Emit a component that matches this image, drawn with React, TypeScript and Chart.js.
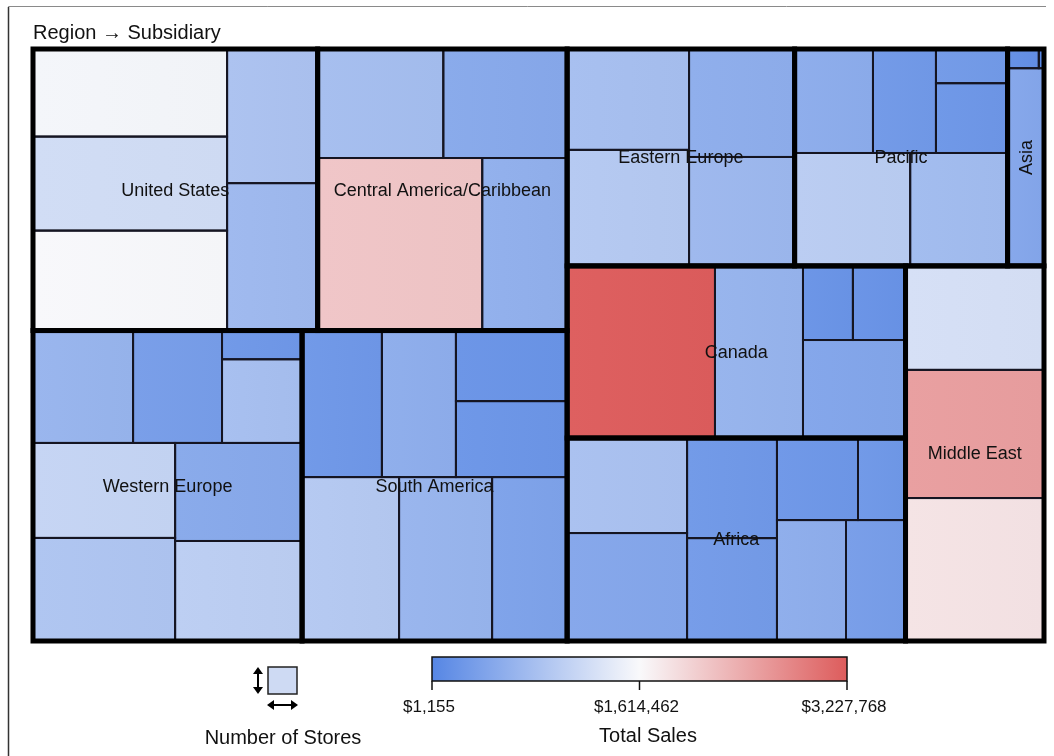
import React, { useEffect, useRef } from "react";
import { Chart, registerables } from "chart.js";

Chart.register(...registerables);

// ---------- data ----------
const regionNames = [
  "United States",
  "Central America/Caribbean",
  "Western Europe",
  "South America",
  "Eastern Europe",
  "Pacific",
  "Asia",
  "Canada",
  "Africa",
  "Middle East",
];

// first split direction inside each region ("h" = side by side, "v" = stacked)
const regionStart = ["h", "v", "v", "v", "h", "v", "v", "h", "h", "v"];

// how the regions are arranged (indices into regionNames), first split "h"
const regionArrangement = [[[0, 1], [2, 3]], [[4, 5, 6], [[7, 8], 9]]];

// Number of stores per subsidiary (nested in the order of the splits)
const storesUS = [[340, 365, 388], [243, 267]];
const storesCA = [[274, 270], [568, 293]];
const storesWE = [[225, 200, [46, 134]], [[270, 293], [249, 254]]];
const storesSA = [[234, 217, [157, 169]], [318, 305, 246]];
const storesEE = [[246, 283], [228, 230]];
const storesPAC = [[163, 131, [49, 100]], [261, 220]];
const storesASIA = [[12, 2], 144];
const storesCAN = [509, 303, [[74, 78], 201]];
const storesAFR = [[228, 259], [180, 185], [[133, 78], [167, 144]]];
const storesME = [288, 355, 396];

// Total sales per subsidiary (same leaf order as above)
const salesUS = [1566062, 1211135, 1598328, 840074, 711010];
const salesCA = [775542, 485147, 2150079, 581945];
const salesWE = [646478, 323816, 243151, 791675, 1098203, 872341, 485147, 1001405];
const salesSA = [243151, 549679, 194752, 210885, 936873, 646478, 388349];
const salesEE = [791675, 936873, 549679, 694877];
const salesPAC = [533546, 259284, 275417, 227018, 985272, 743276];
const salesASIA = [130220, 1155, 452881];
const salesCAN = [3227768, 630345, 194752, 178619, 436748];
const salesAFR = [823941, 452881, 252831, 291550, 233471, 246378, 549679, 323816];
const salesME = [1259534, 2550179, 1840324];

const regionStores: any[] = [storesUS, storesCA, storesWE, storesSA, storesEE, storesPAC, storesASIA, storesCAN, storesAFR, storesME];
const regionSales: number[][] = [salesUS, salesCA, salesWE, salesSA, salesEE, salesPAC, salesASIA, salesCAN, salesAFR, salesME];

const salesTicks = [1155, 1614462, 3227768];

// ---------- styles ----------
const FONT = '"Liberation Sans", Arial, sans-serif';
const rampStart = [86, 134, 228];
const rampMid = [249, 249, 251];
const rampEnd = [221, 92, 92];

type R = { x0: number; y0: number; x1: number; y1: number };

function weight(node: any, leafW: (v: any) => number): number {
  return Array.isArray(node) ? node.reduce((s: number, c: any) => s + weight(c, leafW), 0) : leafW(node);
}

function slice(node: any, rect: R, dir: string, leafW: (v: any) => number, out: { leaf: any; r: R }[]) {
  if (!Array.isArray(node)) {
    out.push({ leaf: node, r: rect });
    return;
  }
  const tot = weight(node, leafW);
  let acc = 0;
  for (const c of node) {
    const w = weight(c, leafW);
    const a = acc / tot;
    const b = (acc + w) / tot;
    acc += w;
    const r: R =
      dir === "h"
        ? { x0: rect.x0 + (rect.x1 - rect.x0) * a, x1: rect.x0 + (rect.x1 - rect.x0) * b, y0: rect.y0, y1: rect.y1 }
        : { x0: rect.x0, x1: rect.x1, y0: rect.y0 + (rect.y1 - rect.y0) * a, y1: rect.y0 + (rect.y1 - rect.y0) * b };
    slice(c, r, dir === "h" ? "v" : "h", leafW, out);
  }
}

function mix(a: number[], b: number[], f: number) {
  return a.map((v, i) => v + (b[i] - v) * f);
}
function rgb(c: number[]) {
  return `rgb(${Math.round(c[0])},${Math.round(c[1])},${Math.round(c[2])})`;
}
function colorFor(v: number) {
  const min = salesTicks[0];
  const max = salesTicks[salesTicks.length - 1];
  const t = Math.max(0, Math.min(1, (v - min) / (max - min)));
  return t < 0.5 ? mix(rampStart, rampMid, t / 0.5) : mix(rampMid, rampEnd, (t - 0.5) / 0.5);
}

const treemapPlugin = {
  id: "treemap",
  afterDraw(chart: any) {
    const { ctx } = chart;
    const xs = chart.scales.x;
    const ys = chart.scales.y;
    const toPx = (r: R) => ({
      l: xs.getPixelForValue(r.x0),
      r: xs.getPixelForValue(r.x1),
      t: ys.getPixelForValue(r.y0),
      b: ys.getPixelForValue(r.y1),
    });

    const regions: { leaf: any; r: R }[] = [];
    slice(regionArrangement, { x0: 0, y0: 0, x1: 1, y1: 1 }, "h", (i: number) => weight(regionStores[i], (v) => v), regions);

    ctx.save();
    // frame
    ctx.strokeStyle = "#8a8a8a";
    ctx.lineWidth = 1;
    ctx.beginPath();
    ctx.moveTo(8.5, 756);
    ctx.lineTo(8.5, 6.5);
    ctx.lineTo(1046, 6.5);
    ctx.stroke();
    ctx.strokeStyle = "#333";
    ctx.lineWidth = 1.5;
    ctx.beginPath();
    ctx.moveTo(8.5, 756);
    ctx.lineTo(8.5, 7);
    ctx.stroke();

    // title
    ctx.fillStyle = "#111";
    ctx.font = `20px ${FONT}`;
    ctx.textAlign = "left";
    ctx.textBaseline = "alphabetic";
    ctx.fillText("Region \u2192 Subsidiary", 33, 39);

    // leaves
    const leafRects: { l: number; r: number; t: number; b: number }[] = [];
    for (const reg of regions) {
      const idx = reg.leaf as number;
      const leaves: { leaf: any; r: R }[] = [];
      slice(regionStores[idx], reg.r, regionStart[idx], (v) => v, leaves);
      leaves.forEach((lf, k) => {
        const p = toPx(lf.r);
        const c = colorFor(regionSales[idx][k]);
        const g = ctx.createLinearGradient(p.l, 0, p.r, 0);
        g.addColorStop(0, rgb(mix(c, [255, 255, 255], 0.025)));
        g.addColorStop(1, rgb(mix(c, [0, 0, 0], 0.012)));
        ctx.fillStyle = g;
        ctx.fillRect(p.l, p.t, p.r - p.l, p.b - p.t);
        leafRects.push(p);
      });
    }
    ctx.strokeStyle = "#151522";
    ctx.lineWidth = 2;
    for (const p of leafRects) ctx.strokeRect(p.l, p.t, p.r - p.l, p.b - p.t);

    // region borders
    ctx.strokeStyle = "#000";
    ctx.lineWidth = 5;
    for (const reg of regions) {
      const p = toPx(reg.r);
      ctx.strokeRect(p.l, p.t, p.r - p.l, p.b - p.t);
    }

    // region labels
    ctx.fillStyle = "#111";
    ctx.font = `18px ${FONT}`;
    ctx.textAlign = "center";
    ctx.textBaseline = "middle";
    for (const reg of regions) {
      const idx = reg.leaf as number;
      const p = toPx(reg.r);
      const cx = (p.l + p.r) / 2;
      const cy = (p.t + p.b) / 2;
      const w = p.r - p.l;
      const h = p.b - p.t;
      if (h > w * 2 && w < 60) {
        ctx.save();
        ctx.translate(cx, cy);
        ctx.rotate(-Math.PI / 2);
        ctx.fillText(regionNames[idx], 0, 1);
        ctx.restore();
      } else {
        ctx.fillText(regionNames[idx], cx, cy + 1);
      }
    }

    // ---- size legend ----
    const ix = 268, iy = 667, iw = 29, ih = 27;
    ctx.fillStyle = "rgb(206,218,243)";
    ctx.fillRect(ix, iy, iw, ih);
    ctx.strokeStyle = "#222";
    ctx.lineWidth = 1.5;
    ctx.strokeRect(ix, iy, iw, ih);
    ctx.fillStyle = "#000";
    ctx.strokeStyle = "#000";
    ctx.lineWidth = 2;
    // vertical arrow
    const vx = 258;
    ctx.beginPath();
    ctx.moveTo(vx, iy + 4);
    ctx.lineTo(vx, iy + ih - 4);
    ctx.stroke();
    ctx.beginPath();
    ctx.moveTo(vx, iy);
    ctx.lineTo(vx - 5, iy + 7);
    ctx.lineTo(vx + 5, iy + 7);
    ctx.closePath();
    ctx.fill();
    ctx.beginPath();
    ctx.moveTo(vx, iy + ih);
    ctx.lineTo(vx - 5, iy + ih - 7);
    ctx.lineTo(vx + 5, iy + ih - 7);
    ctx.closePath();
    ctx.fill();
    // horizontal arrow
    const hy = 705;
    ctx.beginPath();
    ctx.moveTo(ix + 4, hy);
    ctx.lineTo(ix + iw - 3, hy);
    ctx.stroke();
    ctx.beginPath();
    ctx.moveTo(ix - 1, hy);
    ctx.lineTo(ix + 6, hy - 5);
    ctx.lineTo(ix + 6, hy + 5);
    ctx.closePath();
    ctx.fill();
    ctx.beginPath();
    ctx.moveTo(ix + iw + 1, hy);
    ctx.lineTo(ix + iw - 6, hy - 5);
    ctx.lineTo(ix + iw - 6, hy + 5);
    ctx.closePath();
    ctx.fill();
    ctx.fillStyle = "#111";
    ctx.font = `20px ${FONT}`;
    ctx.textAlign = "center";
    ctx.textBaseline = "alphabetic";
    ctx.fillText("Number of Stores", 283, 744);

    // ---- colour legend ----
    const bl = 432, br = 847, bt = 657, bb = 681;
    const grad = ctx.createLinearGradient(bl, 0, br, 0);
    grad.addColorStop(0, rgb(rampStart));
    grad.addColorStop(0.5, rgb(rampMid));
    grad.addColorStop(1, rgb(rampEnd));
    ctx.fillStyle = grad;
    ctx.fillRect(bl, bt, br - bl, bb - bt);
    ctx.strokeStyle = "#111";
    ctx.lineWidth = 1.5;
    ctx.strokeRect(bl, bt, br - bl, bb - bt);
    const tmin = salesTicks[0];
    const tmax = salesTicks[salesTicks.length - 1];
    ctx.fillStyle = "#111";
    ctx.font = `17px ${FONT}`;
    ctx.textAlign = "center";
    for (const tv of salesTicks) {
      const tx = bl + ((tv - tmin) / (tmax - tmin)) * (br - bl);
      ctx.beginPath();
      ctx.moveTo(tx, bb);
      ctx.lineTo(tx, bb + 9);
      ctx.stroke();
      ctx.fillText("$" + tv.toLocaleString("en-US"), tx - 3, 712);
    }
    ctx.font = `20px ${FONT}`;
    ctx.fillText("Total Sales", 648, 742);
    ctx.restore();
  },
};

export default function App() {
  const ref = useRef<HTMLCanvasElement | null>(null);
  useEffect(() => {
    document.body.style.margin = "0";
    document.body.style.background = "#fff";
    const canvas = ref.current;
    if (!canvas) return;
    const chart = new Chart(canvas, {
      type: "scatter",
      data: { datasets: [{ data: [], pointRadius: 0 }] },
      options: {
        responsive: false,
        animation: false,
        devicePixelRatio: 1,
        layout: { padding: { left: 33, top: 49, right: 10, bottom: 115 } },
        scales: {
          x: { type: "linear", min: 0, max: 1, display: false },
          y: { type: "linear", min: 0, max: 1, reverse: true, display: false },
        },
        plugins: { legend: { display: false }, tooltip: { enabled: false }, title: { display: false } },
      },
      plugins: [treemapPlugin],
    } as any);
    return () => chart.destroy();
  }, []);
  return (
    <div style={{ width: 1054, height: 756, position: "relative", background: "#fff" }}>
      <canvas ref={ref} width={1054} height={756} style={{ display: "block", width: 1054, height: 756 }} />
    </div>
  );
}
